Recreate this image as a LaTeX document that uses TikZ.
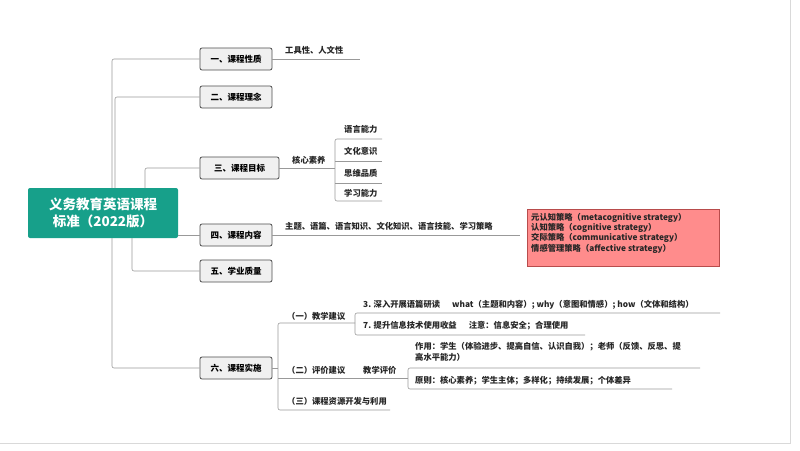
\documentclass[tikz,border=0pt]{standalone}
\usepackage{fontspec}
\setmainfont{Noto Sans CJK SC}
\begin{document}
\begin{tikzpicture}[x=1pt,y=-1pt,
  ln/.style={draw=gray!80,line width=0.6pt},
  cat/.style={draw=black!70,fill=gray!12,rounded corners=2pt,line width=0.8pt,minimum width=72pt,minimum height=22pt,font=\bfseries\fontsize{8.5}{9}\selectfont,inner sep=2pt},
  tx/.style={anchor=west,font=\bfseries\fontsize{8.3}{9}\selectfont,inner sep=0pt,text=black!85}]
\useasboundingbox (0,0) rectangle (800,450);
\fill[white] (0,0) rectangle (800,450);
\draw[gray!30] (0,443) -- (790,443) -- (790,0);
\definecolor{tealc}{HTML}{17A08A}
\node (c) [fill=tealc,rounded corners=2pt,minimum width=150pt,minimum height=50pt,text=white,font=\bfseries\fontsize{13.5}{17}\selectfont,align=center] at (103,213) {义务教育英语课程\\标准（2022版）};
% categories
\node (a1) [cat] at (236,59) {一、课程性质};
\node (a2) [cat] at (236,97) {二、课程理念};
\node (a3) [cat,minimum width=79pt] at (239.5,168) {三、课程目标};
\node (a4) [cat] at (236,235) {四、课程内容};
\node (a5) [cat] at (236,271) {五、学业质量};
\node (a6) [cat] at (236,368) {六、课程实施};
% connectors from center
\draw[ln,rounded corners=2pt] (112,188) -- (112,59) -- (a1.west);
\draw[ln,rounded corners=2pt] (115,188) -- (115,97) -- (a2.west);
\draw[ln,rounded corners=2pt] (145,188) -- (145,168) -- (a3.west);
\draw[ln] (c.east |- a4.west) -- (a4.west);
\draw[ln,rounded corners=2pt] (132,238) -- (132,271) -- (a5.west);
\draw[ln,rounded corners=2pt] (112,238) -- (112,368) -- (a6.west);
% 一
\node (t1) [tx] at (285,50) {工具性、人文性};
\draw[ln] (a1.east) -- (360,59);
% 三
\node (t3) [tx] at (292,160) {核心素养};
\draw[ln] (a3.east) -- (335,168);
\draw[ln,rounded corners=2pt] (382,139) -- (335,139) -- (335,201) -- (382,201);
\foreach \y/\s in {129/语言能力,151/文化意识,173/思维品质,193/学习能力}
  \node[tx] at (344,\y) {\s};
\draw[ln] (335,161) -- (382,161);
\draw[ln] (335,183) -- (382,183);
% 四
\node (t4) [tx] at (285,226) {主题、语篇、语言知识、文化知识、语言技能、学习策略};
\draw[ln] (a4.east) -- (520,235);
\node (r) [draw=red!60!black!70,fill=red!45!white,minimum width=192pt,minimum height=57pt,anchor=north west] at (527,209) {};
\node[tx,anchor=north west,align=left,font=\bfseries\fontsize{8.3}{10.3}\selectfont] at (531,213) {元认知策略（metacognitive strategy）\\认知策略（cognitive strategy）\\交际策略（communicative strategy）\\情感管理策略（affective strategy）};
% 六
\draw[ln] (a6.east) -- (278,368);
\draw[ln,rounded corners=2pt] (355,323) -- (278,323) -- (278,410) -- (390,410);
\node[tx] at (287,316) {（一）教学建议};
\draw[ln,rounded corners=2pt] (720,313) -- (355,313) -- (355,335) -- (585,335);
\node[tx] at (363,305) {3. 深入开展语篇研读\quad\ \ what（主题和内容）; why（意图和情感）; how（文体和结构）};
\node[tx] at (363,326) {7. 提升信息技术使用收益\quad\ \ 注意：信息安全；合理使用};
\draw[ln] (278,378) -- (408,378);
\node[tx] at (287,370) {（二）评价建议};
\node[tx] at (363,370) {教学评价};
\draw[ln,rounded corners=2pt] (700,368) -- (408,368) -- (408,389) -- (672,389);
\node[tx,align=left,anchor=north west,font=\bfseries\fontsize{8.3}{11}\selectfont] at (415,342) {作用：学生（体验进步、提高自信、认识自我）；老师（反馈、反思、提\\高水平能力）};
\node[tx] at (415,381) {原则：核心素养；学生主体；多样化；持续发展；个体差异};
\node[tx] at (287,401) {（三）课程资源开发与利用};
\end{tikzpicture}
\end{document}
